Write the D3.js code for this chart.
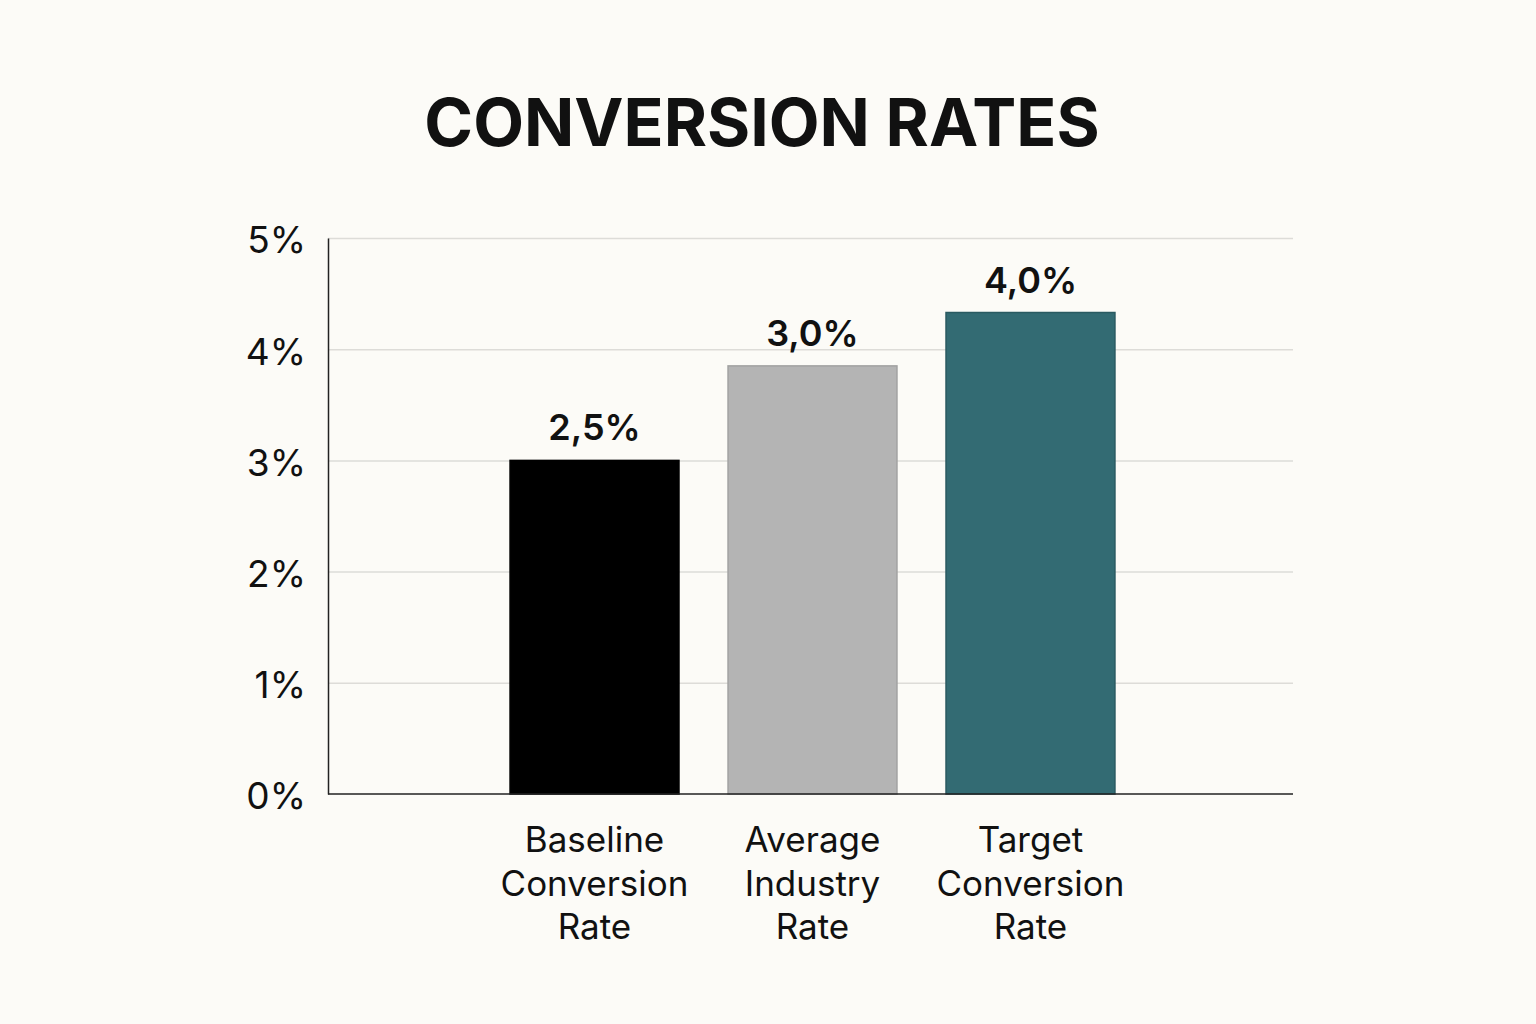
<!DOCTYPE html>
<html>
<head>
  <meta charset="utf-8">
  <style>
  body { margin: 0; background-color: #fcfbf7; }
  text { font-family: Inter, "Noto Sans", sans-serif; fill: #111; }
  .grid line { stroke: #dddcd8; stroke-width: 1.5px; }
  </style>
  <script src="https://d3js.org/d3.v7.min.js"></script>
</head>
<body>
<svg id="chart"></svg>
<script>
// data
var categories = ["Baseline\nConversion\nRate", "Average\nIndustry\nRate", "Target\nConversion\nRate"];
var barValues = [3.0, 3.85, 4.33];          // bar heights as drawn (in %)
var valueLabels = ["2,5%", "3,0%", "4,0%"]; // labels printed above the bars
var barColors = ["#000000", "#b4b4b4", "#336b73"];
var barStrokes = ["#000000", "#a2a2a2", "#2a5a61"];
var yTicks = [0, 1, 2, 3, 4, 5];

var W = 1536, H = 1024;
var margin = {top: 238, right: 243, bottom: 230, left: 328};
var width = W - margin.left - margin.right,
    height = H - margin.top - margin.bottom;

var svg = d3.select("#chart")
    .attr("width", W)
    .attr("height", H);

svg.append("text")
    .attr("x", 762)
    .attr("y", 146)
    .attr("text-anchor", "middle")
    .style("font-size", "66px")
    .style("font-weight", 700)
    .text("CONVERSION RATES");

var g = svg.append("g")
    .attr("transform", "translate(" + margin.left + "," + margin.top + ")");

var x = d3.scaleBand()
    .domain(categories)
    .range([2, width + 2])
    .paddingInner(0.225)
    .paddingOuter(0.826);

var y = d3.scaleLinear().domain([0, 5]).range([height, 0]);

// gridlines
g.append("g")
    .attr("class", "grid")
    .call(d3.axisLeft(y).tickValues(yTicks.slice(1)).tickSize(-width).tickFormat(""))
    .call(function(s) { s.select(".domain").remove(); });

// bars
g.selectAll("rect.bar")
    .data(barValues)
  .enter().append("rect")
    .attr("class", "bar")
    .attr("x", function(d, i) { return x(categories[i]); })
    .attr("y", function(d) { return y(d); })
    .attr("width", x.bandwidth())
    .attr("height", function(d) { return height - y(d); })
    .attr("fill", function(d, i) { return barColors[i]; })
    .attr("stroke", function(d, i) { return barStrokes[i]; })
    .attr("stroke-width", 1.5);

// value labels
g.selectAll("text.val")
    .data(barValues)
  .enter().append("text")
    .attr("class", "val")
    .attr("x", function(d, i) { return x(categories[i]) + x.bandwidth() / 2; })
    .attr("y", function(d) { return y(d) - 20; })
    .attr("text-anchor", "middle")
    .style("font-size", "36px")
    .style("font-weight", 600)
    .text(function(d, i) { return valueLabels[i]; });

// y axis
var yAxis = g.append("g")
    .call(d3.axisLeft(y).tickValues(yTicks).tickSize(0).tickPadding(22)
      .tickFormat(function(d) { return d + "%"; }));
yAxis.select(".domain").attr("stroke", "#222").attr("stroke-width", 1.5);
yAxis.selectAll("text")
    .style("font-size", "37px")
    .attr("fill", "#111")
    .attr("dy", "0.4em");

// x axis
var xAxis = g.append("g")
    .attr("transform", "translate(0," + height + ")")
    .call(d3.axisBottom(x).tickSize(0).tickFormat(""));
xAxis.select(".domain").attr("stroke", "#222").attr("stroke-width", 1.5)
    .attr("d", "M0,0H" + width);

xAxis.selectAll(".tick").each(function(d) {
  var t = d3.select(this).append("text")
      .attr("text-anchor", "middle")
      .style("font-size", "35px")
      .attr("fill", "#111");
  d.split("\n").forEach(function(line, i) {
    t.append("tspan").attr("x", 0).attr("y", 58 + i * 43.5).text(line);
  });
});
</script>
</body>
</html>
